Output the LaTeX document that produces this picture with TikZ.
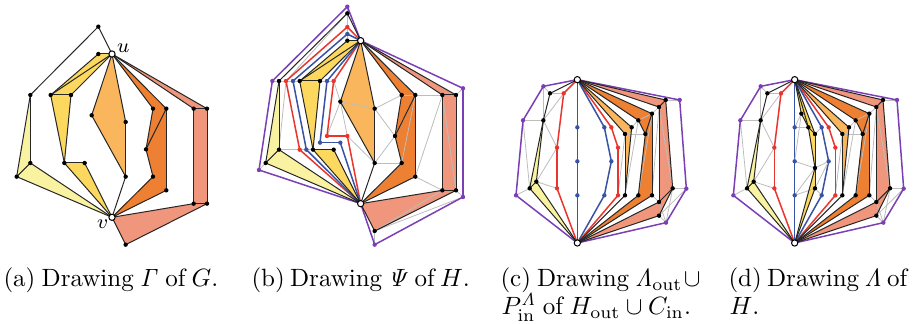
\documentclass[tikz,border=0pt]{standalone}
\definecolor{cyel}{HTML}{F9F3A1}
\definecolor{cgold}{HTML}{FCD95E}
\definecolor{clor}{HTML}{F9B65C}
\definecolor{cdor}{HTML}{EE8033}
\definecolor{csal}{HTML}{F0967C}
\definecolor{cpur}{HTML}{7B3FB5}
\definecolor{cred}{HTML}{E8352E}
\definecolor{cblu}{HTML}{3953A4}
\definecolor{cgry}{HTML}{BDBDBD}
\tikzset{
 blk/.style={draw=black!85,line width=0.4pt,line join=round},
 gry/.style={draw=cgry,line width=0.32pt},
 pur/.style={draw=cpur,line width=0.6pt,line join=round,line cap=round},
 redp/.style={draw=cred,line width=0.6pt,line join=round,line cap=round},
 blup/.style={draw=cblu,line width=0.6pt,line join=round,line cap=round},
 dotk/.style={circle,fill=black,inner sep=0pt,minimum size=1.75pt},
 dotp/.style={circle,fill=cpur,inner sep=0pt,minimum size=1.75pt},
 dotr/.style={circle,fill=cred,inner sep=0pt,minimum size=1.75pt},
 dotb/.style={circle,fill=cblu,inner sep=0pt,minimum size=1.75pt},
 term/.style={circle,draw=black,fill=white,line width=0.4pt,inner sep=0pt,minimum size=2.5pt},
 captxt/.style={inner sep=0pt,anchor=base west,font=\fontsize{10}{12}\selectfont},
 vlabel/.style={inner sep=0pt,font=\fontsize{7.8}{9}\selectfont},
}
\newcommand\Pts[2]{\foreach \n/\x/\y in {#2} {\coordinate (#1\n) at (\x,\y);}}
\newcommand\Edg[3]{\foreach \s/\t in {#3} {\draw[#2] (#1\s) -- (#1\t);}}
\newcommand\Dts[3]{\foreach \n in {#3} {\node[#2] (#1\n d) at (#1\n) {};}}
\newcommand\Ply[4]{\fill[#2] (#1#3) \foreach \n in {#4} {-- (#1\n)} -- cycle;}
\newcommand\FillsOut[1]{%
 \Ply{#1}{cyel}{a}{b,v,c}
 \Ply{#1}{clor}{u}{j,k,i}
 \Ply{#1}{cdor}{u}{m,p,v,o,n,l}
 \Ply{#1}{csal}{u}{r,t,w,v,s,q}}
\newcommand\EdgesOut[1]{%
 \Edg{#1}{blk}{u/top,top/a,a/b,a/c,b/c,b/v,c/v,u/i,u/j,i/k,j/k,k/v,u/l,u/m,l/n,m/n,n/o,o/v,m/p,p/v,q/r,u/q,u/r,q/s,r/t,s/v,s/t,t/w,w/v}}
\newcommand\EdgesIn[1]{%
 \Edg{#1}{blk}{u/d,d/e,e/f,u/e,u/f,e/g,f/g,g/h,g/v,h/v}}
\newcommand\OuterCD[1]{%
 \Pts{#1}{u/232/59,v/232/549,top/150/100,a/130/181,b/109/365,c/89/385,
  i/375/222,j/395/202,k/375/406,l/415/181,m/456/161,n/436/222,o/415/406,p/456/406,
  q/477/141,r/497/120,s/477/426,t/518/385,w/477/467,
  p1/130/79,p2/69/181,p3/48/406,p4/498/488,p5/559/386,p6/539/120,
  ra/191/100,rb/171/263,rc/171/385,rd/334/202,re/354/263,rf/354/406,
  ba/232/202,bb/232/304,bc/232/406,bd/313/202,be/334/304,bf/313/406}}
\newcommand\DrawCD[1]{%
 \Edg{#1}{gry}{p1/top,p1/a,p2/a,p2/c,p3/c,top/ra,a/ra,a/rb,b/rb,b/rc,rf/i,k/l,j/l,i/n,l/m,o/m,p/q,m/q,p/s,q/t,r/p6,t/p5,w/p4,s/p4,t/p4,w/p5}
 \Edg{#1}{pur}{u/p1,p1/p2,p2/p3,p3/v,v/p4,p4/p5,p5/p6,p6/u}
 \Edg{#1}{redp}{u/ra,ra/rb,rb/rc,rc/v,u/rd,rd/re,re/rf,rf/v}
 \Edg{#1}{blup}{u/ba,ba/bb,bb/bc,bc/v,u/bd,bd/be,be/bf,bf/v}}
\newcommand\DotsCD[1]{%
 \Dts{#1}{dotp}{p1,p2,p3,p4,p5,p6}
 \Dts{#1}{dotr}{ra,rb,rc,rd,re,rf}
 \Dts{#1}{dotb}{ba,bb,bc,bd,be,bf}
 \Dts{#1}{dotk}{top,a,b,c,i,j,k,l,m,n,o,p,q,r,s,t,w}}
\begin{document}
\begin{tikzpicture}[x=0.4pt,y=-0.4pt]
\useasboundingbox (0,0) rectangle (917,324);
% panel a
\begin{scope}[shift={(0,10)},x=0.13333pt,y=-0.13333pt]
 \Pts{A}{u/336/132,v/336/622,top/295/50,a/91/255,b/91/459,c/50/500,d/295/132,e/152/255,f/213/255,g/193/459,h/254/459,
  i/275/316,j/377/336,k/377/500,l/459/296,m/499/296,n/438/418,o/459/500,p/499/541,q/581/296,r/621/296,s/581/581,t/621/581,w/377/704}
 \FillsOut{A}
 \Ply{A}{cgold}{u}{d,e,g,h,v,g,f}
 \EdgesOut{A}\EdgesIn{A}
 \Dts{A}{dotk}{top,a,b,c,d,e,f,g,h,i,j,k,l,m,n,o,p,q,r,s,t,w}
 \node[term] (Aud) at (Au) {};
 \node[term] (Avd) at (Av) {};
 \node[vlabel,anchor=west] (Aul) at (350,116) {$u$};
 \node[vlabel,anchor=east] (Avl) at (326,642) {$v$};
\end{scope}
% panel b
\begin{scope}[shift={(240,0)},x=0.13333pt,y=-0.13333pt]
 \Pts{B}{u/362/122,v/362/611,top/322/40,a/117/243,b/117/449,c/77/489,d/322/122,e/179/243,f/240/243,g/219/449,h/281/449,
  i/301/305,j/404/326,k/404/489,l/485/285,m/526/285,n/465/408,o/485/489,p/526/530,q/607/285,r/648/285,s/607/571,t/648/571,w/404/693,
  p1/322/20,p2/97/243,p3/57/510,p4/404/734,p5/669/591,p6/669/265,
  ra/322/81,rb/138/243,rc/179/449,rd/281/243,re/261/408,rf/322/408,
  ba/322/102,bb/159/243,bc/199/449,bd/261/243,be/240/428,bf/301/428}
 \FillsOut{B}
 \Ply{B}{cgold}{u}{d,e,g,h,v,g,f}
 \Edg{B}{gry}{p1/top,top/ra,ra/ba,ba/d,p2/a,p3/c,a/rb,rb/bb,bb/e,b/rc,rc/bc,bc/g,f/bd,bd/rd,rd/i,i/re,i/rf,rf/k,i/j,j/l,j/n,k/n,k/o,l/m,m/q,m/o,m/n,p/q,p/s,q/t,r/p6,t/p5,w/p4,w/s,w/t,w/p5,rb/b,top/rb}
 \Edg{B}{pur}{u/p1,p1/p2,p2/p3,p3/v,v/p4,p4/p5,p5/p6,p6/u}
 \Edg{B}{redp}{u/ra,ra/rb,rb/rc,rc/v,u/rd,rd/re,re/rf,rf/v}
 \Edg{B}{blup}{u/ba,ba/bb,bb/bc,bc/v,u/bd,bd/be,be/bf,bf/v}
 \EdgesOut{B}\EdgesIn{B}
 \Dts{B}{dotp}{p1,p2,p3,p4,p5,p6}
 \Dts{B}{dotr}{ra,rb,rc,rd,re,rf}
 \Dts{B}{dotb}{ba,bb,bc,bd,be,bf}
 \Dts{B}{dotk}{top,a,b,c,d,e,f,g,h,i,j,k,l,m,n,o,p,q,r,s,t,w}
 \node[term] (Bud) at (Bu) {};
 \node[term] (Bvd) at (Bv) {};
\end{scope}
% panel c
\begin{scope}[shift={(500,60)},x=0.13333pt,y=-0.13333pt]
 \OuterCD{C}
 \FillsOut{C}
 \DrawCD{C}
 \EdgesOut{C}
 \DotsCD{C}
 \node[term] (Cud) at (Cu) {};
 \node[term] (Cvd) at (Cv) {};
\end{scope}
% panel d
\begin{scope}[shift={(717.33,60)},x=0.13333pt,y=-0.13333pt]
 \OuterCD{D}
 \Pts{D}{d/252/161,e/273/202,f/293/222,g/293/324,h/293/385}
 \FillsOut{D}
 \Ply{D}{cgold}{u}{d,e,g,h,v,g,f}
 \DrawCD{D}
 \Edg{D}{gry}{d/ba,e/ba,d/bb,g/bb,g/bc,h/bc,bd/f,be/g,be/h,bf/h}
 \EdgesOut{D}\EdgesIn{D}
 \DotsCD{D}
 \Dts{D}{dotk}{d,e,f,g,h}
 \node[term] (Dud) at (Du) {};
 \node[term] (Dvd) at (Dv) {};
\end{scope}
% captions
\node[captxt] (capa) at (3,287) {\spaceskip=2.5pt (a) Drawing $\mathit{\Gamma}$ of $G$.};
\node[captxt] (capb) at (251,287) {\spaceskip=2.1pt (b) Drawing $\mathit{\Psi}$ of $H$.};
\node[captxt] (capc) at (500,287) {\spaceskip=2.4pt (c) Drawing $\mathit{\Lambda}_{\mathrm{out}}\!\cup{}$};
\node[captxt] (capc2) at (501,315) {\spaceskip=2.6pt $P_{\mathrm{in}}^{\mathit{\Lambda}}$ of $H_{\mathrm{out}}\cup C_{\mathrm{in}}$.};
\node[captxt] (capd) at (728,287) {\spaceskip=2.1pt (d) Drawing $\mathit{\Lambda}$ of};
\node[captxt] (capd2) at (729,315) {$H$.};
\end{tikzpicture}
\end{document}
